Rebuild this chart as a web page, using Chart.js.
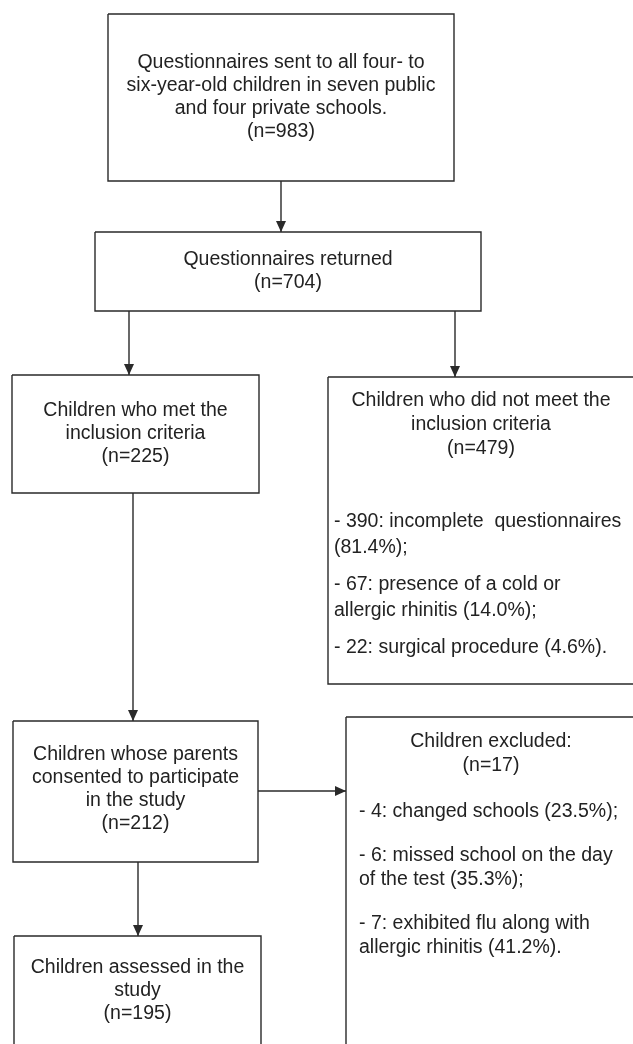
<!DOCTYPE html>
<html>
<head>
<meta charset="utf-8">
<script src="https://cdn.jsdelivr.net/npm/chart.js@4.4.1/dist/chart.umd.min.js"></script>
<style>
  html, body { margin: 0; padding: 0; background: #fff; }
  #wrap { width: 633px; height: 1044px; }
</style>
</head>
<body>
<div id="wrap"><canvas id="flow" width="633" height="1044"></canvas></div>
<script>
// text of each step (line breaks as in the figure)
const stepTitles = [
  ["Questionnaires sent to all four- to", "six-year-old children in seven public", "and four private schools."],
  ["Questionnaires returned"],
  ["Children who met the", "inclusion criteria"],
  ["Children who did not meet the", "inclusion criteria"],
  ["Children whose parents", "consented to participate", "in the study"],
  ["Children excluded:"],
  ["Children assessed in the", "study"]
];
const stepCounts = [983, 704, 225, 479, 212, 17, 195];

const notMetReasons = [
  ["- 390: incomplete  questionnaires", "(81.4%);"],
  ["- 67: presence of a cold or", "allergic rhinitis (14.0%);"],
  ["- 22: surgical procedure (4.6%)."]
];
const excludedReasons = [
  ["- 4: changed schools (23.5%);"],
  ["- 6: missed school on the day", "of the test (35.3%);"],
  ["- 7: exhibited flu along with", "allergic rhinitis (41.2%)."]
];
const reasonsByStep = { 3: notMetReasons, 5: excludedReasons };

// layout, in page units (x 0..633, y 0..1044 from the top)
const boxes = [
  { x0: 108, y0: 14,  x1: 454, y1: 181,  textY: 63,  cx: 281 },
  { x0: 95,  y0: 232, x1: 481, y1: 311,  textY: 260, cx: 288 },
  { x0: 12,  y0: 375, x1: 259, y1: 493,  textY: 411, cx: 135.5 },
  { x0: 328, y0: 377, x1: 640, y1: 684,  textY: 401, cx: 481, lineStep: 24,
    listX: 334, listY: 522, listLine: 26, listGap: 37 },
  { x0: 13,  y0: 721, x1: 258, y1: 862,  textY: 755, cx: 135.5 },
  { x0: 346, y0: 717, x1: 640, y1: 1050, textY: 742, cx: 491, lineStep: 24,
    listX: 359, listY: 812, listLine: 24, listGap: 44 },
  { x0: 14,  y0: 936, x1: 261, y1: 1050, textY: 968, cx: 137.5 }
];
// [from, to, x] for downward arrows; [from, to, y] for sideways ones
const downArrows = [[0, 1, 281], [1, 2, 129], [1, 3, 455], [2, 4, 133], [4, 6, 138]];
const sideArrows = [[4, 5, 791]];

const ink = "#2a2a2a";
const font = '19.5px "Liberation Sans", Arial, sans-serif';

const datasets = [];
boxes.forEach((b) => {
  datasets.push({
    data: [
      { x: b.x0, y: b.y0 }, { x: b.x1, y: b.y0 }, { x: b.x1, y: b.y1 },
      { x: b.x0, y: b.y1 }, { x: b.x0, y: b.y0 }
    ]
  });
});
const arrowTips = [];
downArrows.forEach(([f, t, x]) => {
  datasets.push({ data: [{ x: x, y: boxes[f].y1 }, { x: x, y: boxes[t].y0 }] });
  arrowTips.push({ x: x, y: boxes[t].y0, dir: "down" });
});
sideArrows.forEach(([f, t, y]) => {
  datasets.push({ data: [{ x: boxes[f].x1, y: y }, { x: boxes[t].x0, y: y }] });
  arrowTips.push({ x: boxes[t].x0, y: y, dir: "right" });
});

const flowText = {
  id: "flowText",
  afterDatasetsDraw(chart) {
    const ctx = chart.ctx;
    const xs = chart.scales.x, ys = chart.scales.y;
    ctx.save();

    // arrow heads
    ctx.fillStyle = ink;
    arrowTips.forEach((a) => {
      const px = xs.getPixelForValue(a.x), py = ys.getPixelForValue(a.y);
      ctx.beginPath();
      if (a.dir === "down") {
        ctx.moveTo(px, py);
        ctx.lineTo(px - 5, py - 11);
        ctx.lineTo(px + 5, py - 11);
      } else {
        ctx.moveTo(px, py);
        ctx.lineTo(px - 11, py - 5);
        ctx.lineTo(px - 11, py + 5);
      }
      ctx.closePath();
      ctx.fill();
    });

    // box texts
    ctx.font = font;
    ctx.fillStyle = "#222";
    ctx.textBaseline = "middle";
    boxes.forEach((b, i) => {
      const step = b.lineStep || 23;
      const lines = stepTitles[i].concat(["(n=" + stepCounts[i] + ")"]);
      ctx.textAlign = "center";
      lines.forEach((ln, k) => {
        ctx.fillText(ln, xs.getPixelForValue(b.cx), ys.getPixelForValue(b.textY + k * step));
      });
      const reasons = reasonsByStep[i];
      if (reasons) {
        ctx.textAlign = "left";
        let y = b.listY;
        reasons.forEach((item) => {
          item.forEach((ln, k) => {
            ctx.fillText(ln, xs.getPixelForValue(b.listX), ys.getPixelForValue(y));
            if (k < item.length - 1) y += b.listLine;
          });
          y += b.listGap;
        });
      }
    });
    ctx.restore();
  }
};

new Chart(document.getElementById("flow").getContext("2d"), {
  type: "scatter",
  data: {
    datasets: datasets.map((d) => ({
      data: d.data,
      showLine: true,
      borderColor: ink,
      borderWidth: 1.4,
      pointRadius: 0,
      tension: 0,
      fill: false
    }))
  },
  options: {
    responsive: false,
    animation: false,
    events: [],
    layout: { padding: 0 },
    plugins: { legend: { display: false }, tooltip: { enabled: false } },
    scales: {
      x: { type: "linear", min: 0, max: 633, display: false },
      y: { type: "linear", min: 0, max: 1044, reverse: true, display: false }
    }
  },
  plugins: [flowText]
});
</script>
</body>
</html>
